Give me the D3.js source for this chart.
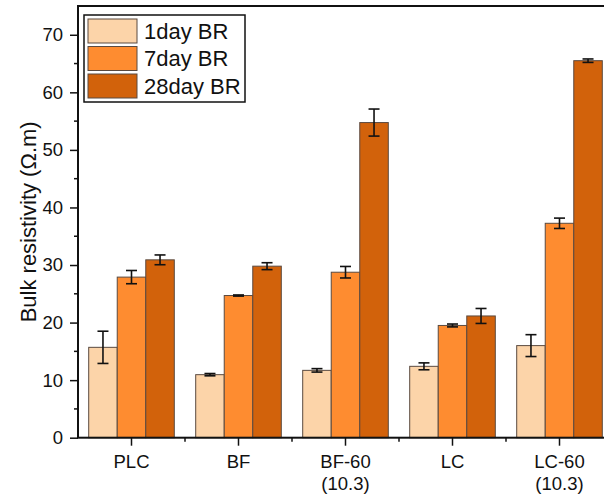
<!DOCTYPE html>
<html><head><meta charset="utf-8">
<script src="https://cdn.jsdelivr.net/npm/d3@7"></script>
<style>body{margin:0;background:#fff}svg{display:block;font-family:Arial,"Liberation Sans",sans-serif}</style>
</head><body><svg id="c" width="604" height="495"></svg>
<script>
const categories = ["PLC", "BF", "BF-60\n(10.3)", "LC", "LC-60\n(10.3)"];
const seriesNames = ["1day BR", "7day BR", "28day BR"];
const colors = ["#FCD4A9", "#FE8C30", "#D2620B"];
const day1 = [15.7, 10.95, 11.7, 12.4, 16.0];
const day1Err = [2.8, 0.2, 0.3, 0.6, 1.9];
const day7 = [27.9, 24.7, 28.75, 19.5, 37.25];
const day7Err = [1.15, 0.1, 1.0, 0.25, 0.9];
const day28 = [30.9, 29.8, 54.75, 21.15, 65.5];
const day28Err = [0.85, 0.6, 2.35, 1.3, 0.3];
const yTicks = [0, 10, 20, 30, 40, 50, 60, 70];

const values = [day1, day7, day28];
const errs = [day1Err, day7Err, day28Err];
const svg = d3.select("#c");
const L = 78, T = 6, R = 613, B = 437.7;
const x = d3.scaleBand().domain(categories).range([L, R]).paddingInner(0.2).paddingOuter(0.1);
const xs = d3.scaleBand().domain(seriesNames).range([0, x.bandwidth()]);
const y = d3.scaleLinear().domain([0, 75]).range([B, T]);

// bars
categories.forEach((c, i) => {
  seriesNames.forEach((s, j) => {
    const v = values[j][i];
    svg.append("rect").attr("x", x(c) + xs(s)).attr("y", y(v))
      .attr("width", xs.bandwidth()).attr("height", y(0) - y(v))
      .attr("fill", colors[j]).attr("stroke", "#5a4a40").attr("stroke-width", 1);
  });
});
// error bars
categories.forEach((c, i) => {
  seriesNames.forEach((s, j) => {
    const v = values[j][i], e = errs[j][i];
    const cx = x(c) + xs(s) + xs.bandwidth() / 2;
    const g = svg.append("g").attr("stroke", "#111").attr("stroke-width", 1.6);
    g.append("line").attr("x1", cx).attr("x2", cx).attr("y1", y(v - e)).attr("y2", y(v + e));
    g.append("line").attr("x1", cx - 5.5).attr("x2", cx + 5.5).attr("y1", y(v - e)).attr("y2", y(v - e));
    g.append("line").attr("x1", cx - 5.5).attr("x2", cx + 5.5).attr("y1", y(v + e)).attr("y2", y(v + e));
  });
});

// frame
svg.append("rect").attr("x", L).attr("y", T).attr("width", R - L).attr("height", B - T)
  .attr("fill", "none").attr("stroke", "#111").attr("stroke-width", 2);

// y axis
const ya = svg.append("g").attr("transform", `translate(${L},0)`)
  .call(d3.axisLeft(y).tickValues(yTicks).tickSize(8).tickSizeOuter(0).tickPadding(7));
ya.select(".domain").remove();
ya.selectAll("line").attr("stroke", "#111").attr("stroke-width", 1.5);
ya.selectAll("text").attr("font-size", 18.5).attr("fill", "#111").attr("font-family", "Arial, 'Liberation Sans', sans-serif");
const minorY = d3.range(5, 75, 10);
svg.append("g").selectAll("line").data(minorY).join("line")
  .attr("x1", L - 4).attr("x2", L).attr("y1", d => y(d)).attr("y2", d => y(d))
  .attr("stroke", "#111").attr("stroke-width", 1.5);

// x axis
const xa = svg.append("g").attr("transform", `translate(0,${B})`)
  .call(d3.axisBottom(x).tickSize(8).tickSizeOuter(0).tickPadding(6).tickFormat(""));
xa.select(".domain").remove();
xa.selectAll("line").attr("stroke", "#111").attr("stroke-width", 1.5);
xa.selectAll(".tick").each(function(d) {
  const lines = d.split("\n");
  const t = d3.select(this).append("text").attr("fill", "#111").attr("font-size", 18.5)
    .attr("text-anchor", "middle").attr("y", 30);
  lines.forEach((ln, k) => t.append("tspan").attr("x", 0).attr("dy", k === 0 ? 0 : 22.5).text(ln));
});
const minorX = categories.slice(0, -1).map(c => x(c) + x.bandwidth() + (x.step() - x.bandwidth()) / 2);
svg.append("g").selectAll("line").data(minorX).join("line")
  .attr("x1", d => d).attr("x2", d => d).attr("y1", B).attr("y2", B + 4)
  .attr("stroke", "#111").attr("stroke-width", 1.5);

// y label
svg.append("text").attr("transform", `translate(36,${(T + B) / 2}) rotate(-90)`)
  .attr("text-anchor", "middle").attr("font-size", 22).attr("fill", "#111")
  .text("Bulk resistivity (Ω.m)");

// legend
const lg = svg.append("g");
lg.append("rect").attr("x", 84).attr("y", 15).attr("width", 161).attr("height", 87)
  .attr("fill", "#fff").attr("stroke", "#111").attr("stroke-width", 1.5);
seriesNames.forEach((s, j) => {
  const yy = 19 + j * 27.5;
  lg.append("rect").attr("x", 88).attr("y", yy).attr("width", 49).attr("height", 24)
    .attr("fill", colors[j]).attr("stroke", "#5a4a40").attr("stroke-width", 1);
  lg.append("text").attr("x", 144).attr("y", yy + 19.5).attr("font-size", 22).attr("fill", "#111").text(s);
});
</script></body></html>
